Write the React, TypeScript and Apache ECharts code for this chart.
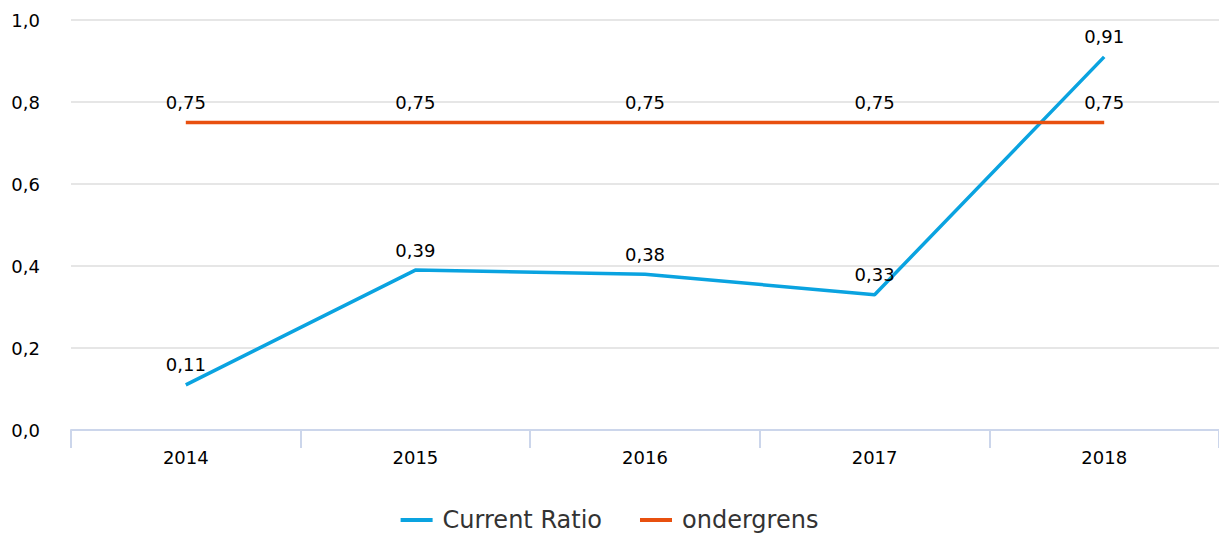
import React, { useEffect, useRef } from "react";
import * as echarts from "echarts";

const categories = ["2014", "2015", "2016", "2017", "2018"];
const currentRatio = [0.11, 0.39, 0.38, 0.33, 0.91];
const ondergrens = [0.75, 0.75, 0.75, 0.75, 0.75];
const seriesNames = ["Current Ratio", "ondergrens"];

const fmt = (v: number, d: number) => v.toFixed(d).replace(".", ",");

export default function App() {
  const ref = useRef<HTMLDivElement>(null);
  useEffect(() => {
    if (!ref.current) return;
    const chart = echarts.init(ref.current, undefined, { renderer: "svg" });
    const font = "Verdana, 'DejaVu Sans', sans-serif";
    const label = {
      show: true,
      position: "top" as const,
      distance: 11,
      color: "#000",
      fontSize: 18,
      fontFamily: font,
      formatter: (p: any) => fmt(p.value, 2),
    };
    chart.setOption({
      animation: false,
      grid: { left: 71, right: 0, top: 20, bottom: 103, containLabel: false },
      legend: {
        top: 503,
        left: "center",
        itemWidth: 32,
        itemHeight: 4,
        itemGap: 38,
        icon: "rect",
        textStyle: { fontSize: 24, color: "#333", fontFamily: font, padding: [0, 0, 0, 5] },
        data: seriesNames,
      },
      xAxis: {
        type: "category",
        data: categories,
        boundaryGap: true,
        axisLine: { lineStyle: { color: "#ccd6eb", width: 2 } },
        axisTick: { show: true, length: 18, lineStyle: { color: "#ccd6eb", width: 2 } },
        axisLabel: { color: "#000", fontSize: 18, fontFamily: font, margin: 18 },
      },
      yAxis: {
        type: "value",
        min: 0,
        max: 1,
        interval: 0.2,
        axisLine: { show: false },
        axisTick: { show: false },
        splitLine: { lineStyle: { color: "#e6e6e6", width: 2 } },
        axisLabel: {
          color: "#000",
          fontSize: 18,
          fontFamily: font,
          margin: 31,
          formatter: (v: number) => fmt(v, 1),
        },
      },
      series: [
        {
          name: seriesNames[0],
          type: "line",
          data: currentRatio,
          showSymbol: true,
          symbol: "circle",
          symbolSize: 0,
          lineStyle: { color: "#0aa3e0", width: 3.5 },
          itemStyle: { color: "#0aa3e0" },
          label,
        },
        {
          name: seriesNames[1],
          type: "line",
          data: ondergrens,
          showSymbol: true,
          symbol: "circle",
          symbolSize: 0,
          lineStyle: { color: "#e8500f", width: 3.5 },
          itemStyle: { color: "#e8500f" },
          label,
        },
      ],
    });
    return () => chart.dispose();
  }, []);
  return (
    <div
      ref={ref}
      style={{ position: "fixed", left: 0, top: 0, width: 1219, height: 533, background: "#fff" }}
    />
  );
}
